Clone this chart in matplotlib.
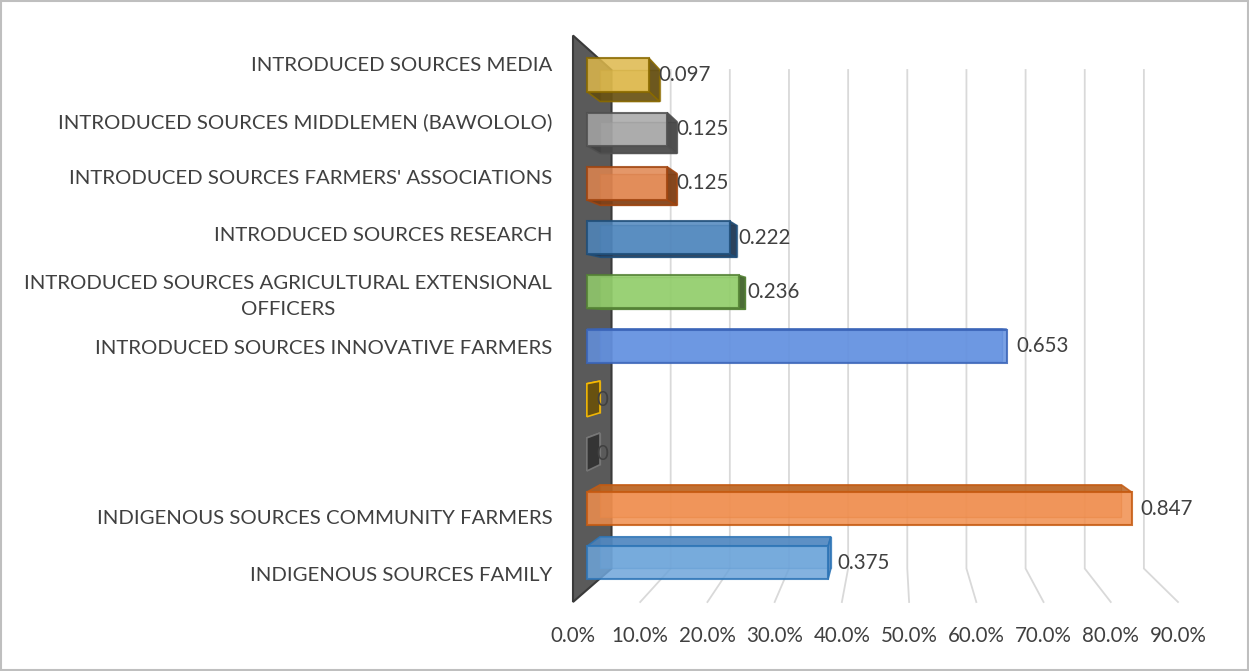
import matplotlib
matplotlib.use("Agg")
import matplotlib.pyplot as plt
from matplotlib.patches import Polygon, Rectangle

# ---------------- data ----------------
categories = [
    "INDIGENOUS SOURCES FAMILY",
    "INDIGENOUS SOURCES COMMUNITY FARMERS",
    "",
    "",
    "INTRODUCED SOURCES INNOVATIVE FARMERS",
    "INTRODUCED SOURCES AGRICULTURAL EXTENSIONAL\nOFFICERS",
    "INTRODUCED SOURCES RESEARCH",
    "INTRODUCED SOURCES FARMERS' ASSOCIATIONS",
    "INTRODUCED SOURCES MIDDLEMEN (BAWOLOLO)",
    "INTRODUCED SOURCES MEDIA",
]
values = [0.375, 0.847, 0, 0, 0.653, 0.236, 0.222, 0.125, 0.125, 0.097]
xticks = [0.0, 0.1, 0.2, 0.3, 0.4, 0.5, 0.6, 0.7, 0.8, 0.9]
xtick_labels = ["0.0%", "10.0%", "20.0%", "30.0%", "40.0%", "50.0%",
                "60.0%", "70.0%", "80.0%", "90.0%"]

# ---------------- style ----------------
face_colors = ["#6EA5DA", "#F08E4E", "#404040", "#8A6A12", "#6391E0",
               "#93CE6C", "#4F86BD", "#E0854F", "#A6A6A6", "#DDB84B"]
edge_colors = ["#2E75B6", "#C55A11", "#7A7A7A", "#FFC000", "#3A64B8",
               "#548235", "#1F4E79", "#A04510", "#505050", "#8A6A00"]
side_colors = ["#4F86BF", "#B8621F", "#303030", "#6A5008", "#3F66B0",
               "#3F5F2A", "#1F3550", "#7A3A10", "#404040", "#5F4A10"]

TEXT = "#404040"
GRID = "#D9D9D9"
FONT = "Lato"

# simple one-point perspective (data units)
XV, YV, K = 0.4775, 4.925, 0.12
D1, D2 = 0.36, 0.70
HALF = 0.305


def proj(v, c, d):
    s = 1 - K * d
    return (XV + (v - XV) * s, YV + (c - YV) * s)


fig = plt.figure(figsize=(12.49, 6.71), dpi=100)
ax = fig.add_axes([573 / 1249, 69 / 671, 676 / 1249, 566.5 / 671])
ax.set_xlim(0, 676 / 672.2)
ax.set_ylim(0, 10)
for sp in ax.spines.values():
    sp.set_visible(False)

# gridlines: floor + back wall
for t in xticks[1:]:
    pts = [proj(t, 0, 0), proj(t, 0, 1), proj(t, 10, 1)]
    ax.plot([p[0] for p in pts], [p[1] for p in pts], color=GRID, lw=1.3,
            zorder=1, clip_on=False, solid_joinstyle="miter")

# side wall at 0
wall = [proj(0, 10, 0), proj(0, 10, 1), proj(0, 0, 1), proj(0, 0, 0)]
ax.add_patch(Polygon(wall, closed=True, facecolor="#5A5A5A", edgecolor="#3A3A3A",
                     lw=1.5, zorder=2, clip_on=False))

# bars as boxes
for i, v in enumerate(values):
    c0, c1 = i + 0.5 - HALF, i + 0.5 + HALF
    fc, ec, sc = face_colors[i], edge_colors[i], side_colors[i]
    z = 3
    back = [proj(0, c0, D2), proj(v, c0, D2), proj(v, c1, D2), proj(0, c1, D2)]
    ax.add_patch(Polygon(back, closed=True, facecolor=fc, edgecolor=ec, alpha=0.55,
                         lw=1.0, zorder=z, clip_on=False))
    cc = c1 if c1 < YV else c0
    tb = [proj(0, cc, D1), proj(v, cc, D1), proj(v, cc, D2), proj(0, cc, D2)]
    ax.add_patch(Polygon(tb, closed=True, facecolor=sc, edgecolor=ec, alpha=0.85,
                         lw=1.2, zorder=z + 0.1, clip_on=False))
    if v < XV:
        rf = [proj(v, c0, D1), proj(v, c0, D2), proj(v, c1, D2), proj(v, c1, D1)]
        ax.add_patch(Polygon(rf, closed=True, facecolor=sc, edgecolor=ec, alpha=0.9,
                             lw=1.2, zorder=z + 0.2, clip_on=False))
    if v > 0:
        fr = [proj(0, c0, D1), proj(v, c0, D1), proj(v, c1, D1), proj(0, c1, D1)]
        ax.add_patch(Polygon(fr, closed=True, facecolor=fc, edgecolor=ec, alpha=0.85,
                             lw=1.5, zorder=z + 0.3, clip_on=False))
    lx, ly = proj(v, i + 0.5, D1)
    ax.annotate(f"{v:g}", (lx, ly), xytext=(6.5, 0), textcoords="offset points",
                ha="left", va="center", fontsize=14.8, color=TEXT,
                family=FONT, zorder=5)

# axes ticks
ax.set_xticks(xticks)
ax.set_xticklabels(xtick_labels)
ax.set_yticks([i + 0.5 for i in range(len(categories))])
ax.set_yticklabels(categories, multialignment="center", linespacing=1.65)
ax.tick_params(axis="x", length=0, pad=17, labelsize=14.8, labelcolor=TEXT)
ax.tick_params(axis="y", length=0, pad=15, labelsize=14.7, labelcolor=TEXT)
for lab in ax.get_xticklabels() + ax.get_yticklabels():
    lab.set_family(FONT)

# figure border
fig.patches.append(Rectangle((0.001, 0.001), 0.998, 0.997, transform=fig.transFigure,
                             fill=False, edgecolor="#BFBFBF", lw=1.5))

fig.savefig("out.png", dpi=100)
